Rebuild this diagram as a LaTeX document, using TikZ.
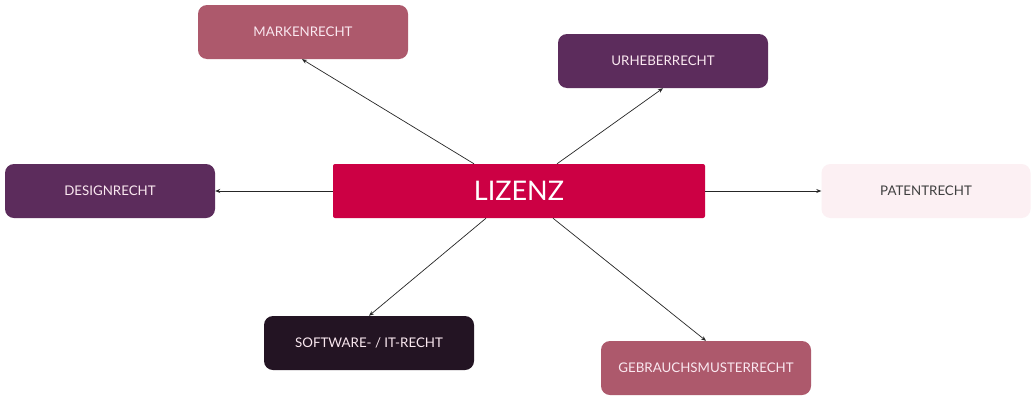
\documentclass[tikz,border=0pt]{standalone}
\usepackage{fontspec}
\setmainfont{Lato}
\usepackage{xcolor}
\usepackage{tikz}
\usetikzlibrary{arrows.meta,positioning}
\definecolor{rosePink}{RGB}{173,89,108}
\definecolor{plumDark}{RGB}{92,44,92}
\definecolor{lizRed}{RGB}{204,0,68}
\definecolor{paleRose}{RGB}{252,240,243}
\definecolor{nightPlum}{RGB}{35,20,35}
\definecolor{lightText}{RGB}{250,232,240}

\begin{document}
\begin{tikzpicture}[
    x=1pt, y=-1pt,
    every node/.style={font=\fontsize{13.3}{15}\selectfont},
    area/.style={rectangle, rounded corners=9pt, minimum width=210pt,
        minimum height=54pt, align=center, text=lightText, inner sep=2pt},
    hub/.style={rectangle, rounded corners=2pt, fill=lizRed, minimum width=372pt,
        minimum height=54pt, text=white, font=\fontsize{27}{30}\selectfont},
    arrow/.style={-{Stealth[length=5pt,width=4pt]}, line width=0.7pt, black!85},
    ]
    \useasboundingbox[fill=white] (0,0) rectangle (1035,402);
    % centre
    \node[hub] (liz) at (519,191) {LIZENZ};
    % upper row
    \node[area, fill=rosePink]  (mark) at (303,32)  {MARKENRECHT};
    \node[area, fill=plumDark]  (urh)  at (663,61)  {URHEBERRECHT};
    % middle row
    \node[area, fill=plumDark]  (des)  at (110,191) {DESIGNRECHT};
    \node[area, fill=paleRose, text=black!75, minimum width=209pt] (pat) at (926,191) {PATENTRECHT};
    % lower row
    \node[area, fill=nightPlum] (soft) at (369,343) {SOFTWARE- / IT-RECHT};
    \node[area, fill=rosePink]  (gbm)  at (706,368) {GEBRAUCHSMUSTERRECHT};
    % arrows
    \draw[arrow] ([xshift=-45pt]liz.north) -- ([xshift=-1pt]mark.south);
    \draw[arrow] ([xshift=38pt]liz.north) -- (urh.south);
    \draw[arrow] (liz.west) -- (des.east);
    \draw[arrow] (liz.east) -- (pat.west);
    \draw[arrow] ([xshift=-33pt]liz.south) -- (soft.north);
    \draw[arrow] ([xshift=34pt]liz.south) -- (gbm.north);
\end{tikzpicture}
\end{document}
